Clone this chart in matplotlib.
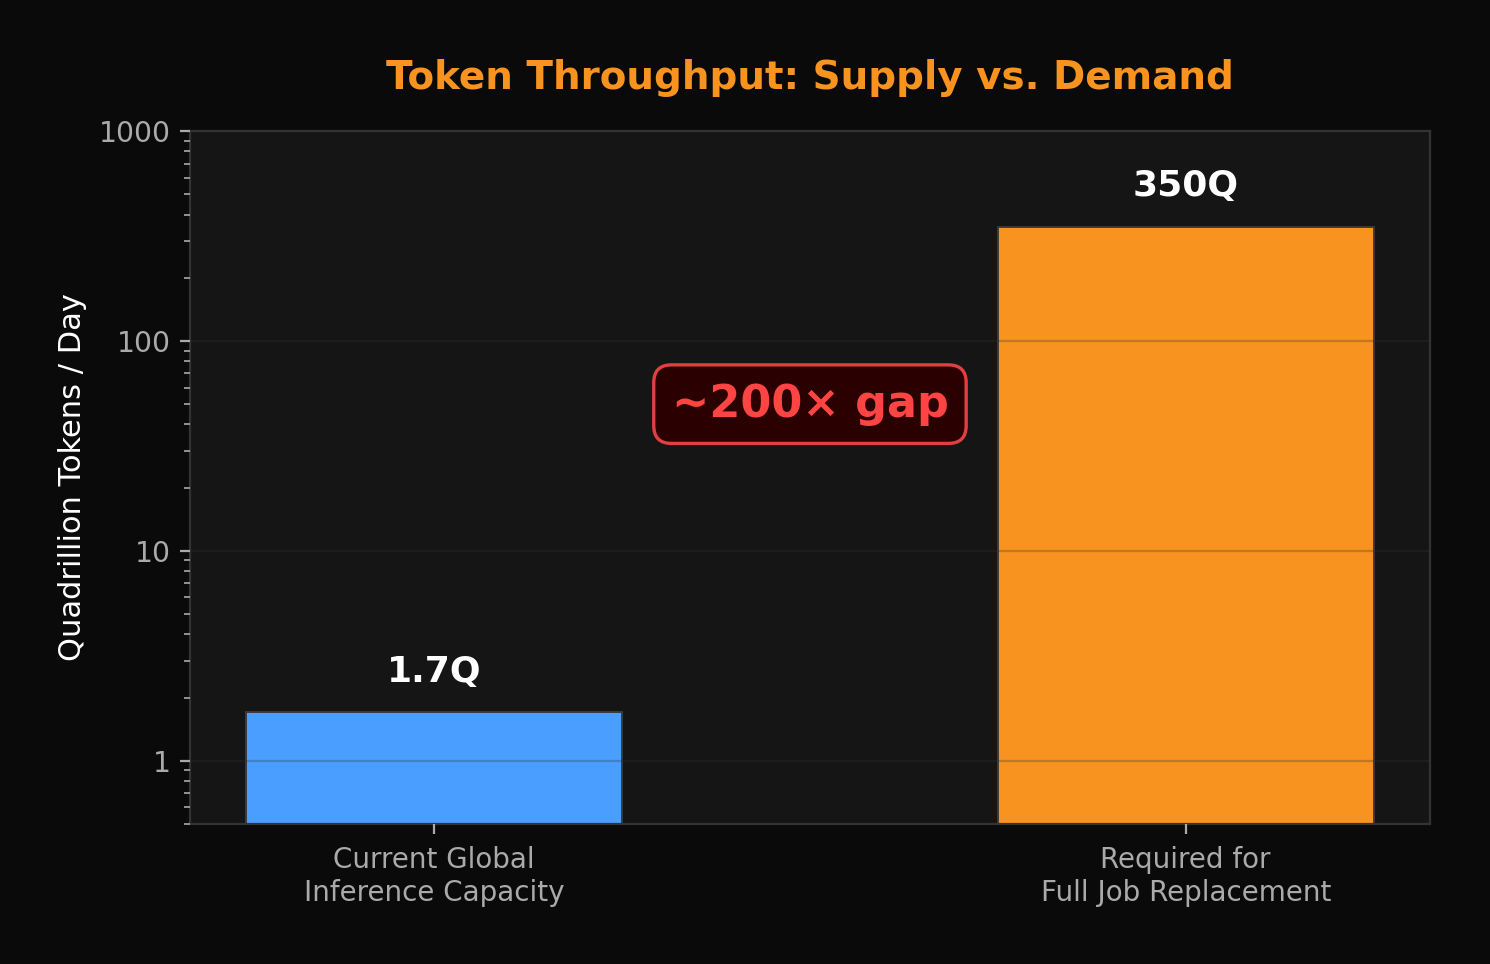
import matplotlib.pyplot as plt

# datos
categorias = ['Current Global\nInference Capacity', 'Required for\nFull Job Replacement']
valores = [1.7, 350]
etiquetas = ['1.7Q', '350Q']
colores = ['#4a9eff', '#f7931e']

fig, ax = plt.subplots(figsize=(7.45, 4.82), dpi=200)
fig.patch.set_facecolor('#0a0a0a')
ax.set_facecolor('#151515')
fig.subplots_adjust(left=0.1275, right=0.9597, top=0.8641, bottom=0.1452)

x = range(len(categorias))
ax.bar(x, valores, width=0.5, color=colores, edgecolor='#3a3a3a', linewidth=0.7)
ax.set_yscale('log')
ax.set_ylim(0.5, 1000)
ax.set_yticks([1, 10, 100, 1000])
ax.set_yticklabels(['1', '10', '100', '1000'])

# etiquetas encima de las barras
for xi, v, t in zip(x, valores, etiquetas):
    ax.text(xi, v * 1.3, t, ha='center', va='bottom', fontsize=13,
            fontweight='bold', color='white')

# cuadro de la brecha
ax.text(0.5, 50, '~200× gap', ha='center', va='center', fontsize=16,
        fontweight='bold', color='#ff4444',
        bbox=dict(boxstyle='round,pad=0.4', facecolor='#2a0000',
                  edgecolor='#e04040', linewidth=1.2))

ax.set_xticks(list(x))
ax.set_xticklabels(categorias)
ax.set_ylabel('Quadrillion Tokens / Day', color='white', fontsize=11)
ax.set_title('Token Throughput: Supply vs. Demand', color='#f7931e',
             fontsize=14, fontweight='bold', pad=15)

ax.tick_params(axis='y', which='both', colors='#aaaaaa', labelsize=10.2)
ax.tick_params(axis='x', colors='#aaaaaa', labelsize=10, pad=4.5)
for s in ax.spines.values():
    s.set_color('#333333')

ax.set_axisbelow(False)
ax.yaxis.grid(True, which='major', color='#333333', alpha=0.28)

plt.savefig('out.png', dpi=200, facecolor=fig.get_facecolor())
